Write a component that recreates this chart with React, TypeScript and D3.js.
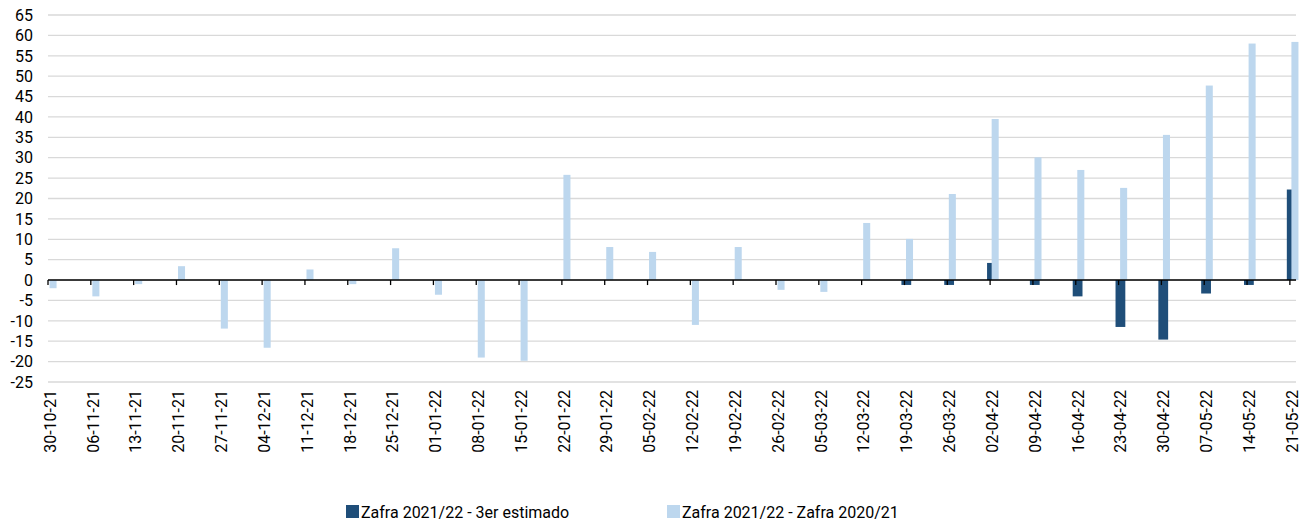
import React from "react";
import * as d3 from "d3";

const WIDTH = 1314;
const HEIGHT = 525;

// weekly dates (dd-mm-yy)
const dates = [
  "30-10-21", "06-11-21", "13-11-21", "20-11-21", "27-11-21", "04-12-21",
  "11-12-21", "18-12-21", "25-12-21", "01-01-22", "08-01-22", "15-01-22",
  "22-01-22", "29-01-22", "05-02-22", "12-02-22", "19-02-22", "26-02-22",
  "05-03-22", "12-03-22", "19-03-22", "26-03-22", "02-04-22", "09-04-22",
  "16-04-22", "23-04-22", "30-04-22", "07-05-22", "14-05-22", "21-05-22",
];

// Zafra 2021/22 - 3er estimado
const estimado = [
  0, 0, 0, 0, 0, 0, 0, 0, 0, 0, 0, 0, 0, 0, 0, 0, 0, 0, 0, 0,
  -1.2, -1.2, 4.2, -1.2, -4.0, -11.5, -14.6, -3.3, -1.2, 22.2,
];

// Zafra 2021/22 - Zafra 2020/21
const diferencia = [
  -2.0, -4.0, -1.0, 3.4, -11.9, -16.6, 2.6, -1.0, 7.8, -3.6,
  -19.0, -19.8, 25.8, 8.1, 6.9, -11.0, 8.1, -2.4, -2.9, 14.0,
  10.1, 21.1, 39.5, 30.1, 27.0, 22.6, 35.6, 47.7, 58.0, 58.4,
];

const yTicks = d3.range(-25, 66, 5);

const seriesNames = ["Zafra 2021/22 - 3er estimado", "Zafra 2021/22 - Zafra 2020/21"];
const colors = ["#1f4e79", "#bdd7ee"];

const FONT = "Roboto, sans-serif";

const parseDate = d3.utcParse("%d-%m-%y");

export default function App() {
  const days = dates.map((d) => parseDate(d) as Date);
  const first = days[0];
  const last = d3.utcDay.offset(days[days.length - 1], 1);

  const x = d3.scaleUtc().domain([first, last]).range([48, 1296]);
  const y = d3.scaleLinear().domain([-25, 65]).range([382, 15]);

  const dayW = x(d3.utcDay.offset(first, 1)) - x(first);

  const barRect = (d: Date, v: number, offset: number, w: number) => {
    const x0 = x(d) + offset * dayW;
    const y0 = Math.min(y(v), y(0));
    const h = Math.abs(y(v) - y(0));
    return { x: x0, y: y0, width: w * dayW, height: h };
  };

  return (
    <svg
      width={WIDTH}
      height={HEIGHT}
      style={{ position: "absolute", left: 0, top: 0, background: "#fff" }}
      fontFamily={FONT}
    >
      {/* gridlines */}
      <g>
        {yTicks.map((t) => (
          <line
            key={t}
            x1={48}
            x2={1296}
            y1={y(t)}
            y2={y(t)}
            stroke="#d9d9d9"
            strokeWidth={1.3}
          />
        ))}
      </g>

      {/* y labels */}
      <g fontSize={16} textAnchor="end" fill="#000">
        {yTicks.map((t) => (
          <text key={t} x={33} y={y(t)} dy="0.36em">
            {t}
          </text>
        ))}
      </g>

      {/* bars */}
      <g>
        {days.map((d, i) => {
          const r = barRect(d, estimado[i], -0.5, 1.6);
          return r.height > 0 ? <rect key={i} {...r} fill={colors[0]} /> : null;
        })}
        {days.map((d, i) => {
          const r = barRect(d, diferencia[i], 0.25, 1.15);
          return <rect key={i} {...r} fill={colors[1]} />;
        })}
      </g>

      {/* zero axis */}
      <line x1={48} x2={1296} y1={y(0)} y2={y(0)} stroke="#000" strokeWidth={1.5} />
      <g>
        {days.map((d, i) => (
          <line
            key={i}
            x1={x(d)}
            x2={x(d)}
            y1={y(0)}
            y2={y(0) + 5}
            stroke="#000"
            strokeWidth={1.3}
          />
        ))}
      </g>

      {/* x labels */}
      <g fontSize={16} textAnchor="end" fill="#000">
        {days.map((d, i) => (
          <text
            key={i}
            transform={`translate(${x(d) + 2},390) rotate(-90)`}
            dy="0.36em"
          >
            {dates[i]}
          </text>
        ))}
      </g>

      {/* legend */}
      <g fontSize={16} fill="#000">
        {seriesNames.map((name, i) => {
          const lx = [346, 667][i];
          return (
            <g key={name} transform={`translate(${lx},0)`}>
              <rect x={0} y={505} width={13} height={13} fill={colors[i]} />
              <text x={15} y={518}>
                {name}
              </text>
            </g>
          );
        })}
      </g>
    </svg>
  );
}
